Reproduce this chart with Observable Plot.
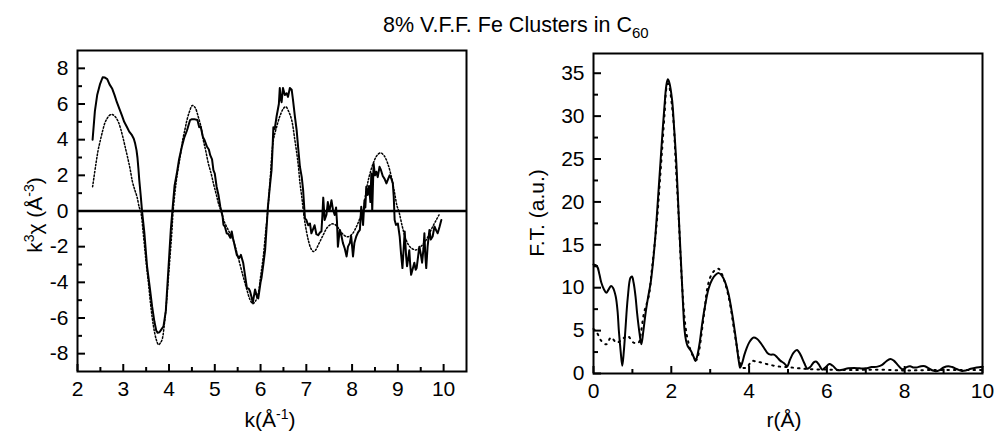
<!DOCTYPE html>
<html><head><meta charset="utf-8">
<script src="https://cdn.jsdelivr.net/npm/d3@7"></script>
<script src="https://cdn.jsdelivr.net/npm/@observablehq/plot@0.6"></script>
<style>
body{margin:0;background:#fff;}
#wrap{position:relative;width:994px;height:431px;overflow:hidden;background:#fff;font-family:"Liberation Sans",Arial,sans-serif;}
#wrap > svg{position:absolute;}
</style></head>
<body><div id="wrap"></div>
<script>
// ---- left panel: k^3 chi(k) ----
const kExp = [2.33,2.38,2.43,2.49,2.55,2.6,2.65,2.7,2.76,2.81,2.86,2.92,2.97,3.02,3.08,3.13,3.19,3.23,3.26,3.29,3.31,3.33,3.35,3.38,3.41,3.46,3.52,3.58,3.63,3.68,3.72,3.75,3.79,3.83,3.88,3.93,3.99,4.04,4.08,4.12,4.17,4.22,4.28,4.33,4.39,4.46,4.5,4.55,4.62,4.66,4.69,4.74,4.78,4.83,4.87,4.9,4.94,4.97,5.0,5.04,5.08,5.12,5.17,5.19,5.22,5.26,5.3,5.34,5.37,5.4,5.44,5.48,5.53,5.57,5.62,5.66,5.7,5.74,5.77,5.8,5.83,5.88,5.92,5.95,6.0,6.02,6.06,6.1,6.13,6.16,6.2,6.24,6.26,6.28,6.31,6.35,6.4,6.42,6.44,6.46,6.49,6.53,6.57,6.6,6.64,6.68,6.71,6.75,6.79,6.82,6.86,6.9,6.93,6.97,7.0,7.04,7.08,7.11,7.15,7.18,7.22,7.26,7.3,7.33,7.35,7.37,7.4,7.44,7.47,7.49,7.51,7.55,7.58,7.62,7.65,7.67,7.69,7.73,7.76,7.8,7.84,7.88,7.91,7.95,7.98,8.02,8.05,8.09,8.13,8.17,8.2,8.24,8.27,8.29,8.31,8.34,8.37,8.4,8.42,8.44,8.47,8.5,8.53,8.56,8.6,8.63,8.67,8.71,8.75,8.78,8.82,8.86,8.89,8.91,8.93,8.96,9.0,9.04,9.07,9.1,9.13,9.15,9.18,9.2,9.23,9.25,9.27,9.29,9.33,9.36,9.39,9.41,9.44,9.47,9.5,9.53,9.56,9.58,9.6,9.62,9.65,9.69,9.72,9.76,9.8,9.84,9.87,9.91,9.95];
const chiExp = [4.0,5.6,6.5,7.1,7.5,7.48,7.4,7.1,6.85,6.5,6.1,5.7,5.36,5.0,4.71,4.45,4.25,4.05,3.78,3.4,3.0,2.4,1.73,0.9,0.0,-1.2,-3.1,-4.3,-5.35,-6.2,-6.7,-6.83,-6.8,-6.65,-6.46,-5.6,-3.1,-1.0,0.2,1.4,2.1,2.9,3.6,4.1,4.5,5.1,5.15,5.15,5.1,4.7,4.75,4.15,3.95,3.6,3.45,3.13,2.9,2.29,2.1,1.36,0.9,0.24,-0.3,-0.78,-0.87,-1.25,-1.3,-1.5,-1.15,-1.55,-2.0,-2.46,-2.65,-2.46,-2.9,-3.6,-4.3,-4.35,-4.5,-4.8,-5.15,-4.4,-4.8,-4.9,-4.0,-3.76,-3.0,-2.18,-1.0,0.2,1.3,2.29,3.4,4.7,4.6,5.3,6.0,6.9,6.3,6.1,6.9,6.5,6.6,6.4,6.9,6.8,6.2,5.3,4.5,3.6,2.48,1.9,1.17,-0.41,-0.5,-0.8,-0.7,-1.25,-1.0,-0.8,-1.3,-1.36,-1.2,-1.15,-0.3,0.75,-0.5,-0.2,0.5,0.1,0.06,0.6,0.1,-0.22,0.2,-0.6,-2.0,-1.06,-1.3,-1.8,-2.1,-2.55,-2.0,-1.8,-1.4,-2.55,-1.8,-1.43,-1.2,-1.06,0.24,-0.78,0.6,0.2,1.36,0.9,1.4,0.5,2.1,0.0,2.66,2.0,2.2,1.9,2.48,2.3,1.96,1.8,1.55,1.75,2.0,1.8,1.55,0.8,-0.5,-0.78,-0.7,-1.43,-2.4,-3.2,-2.0,-1.15,-2.5,-3.1,-2.6,-2.2,-3.0,-3.58,-3.2,-2.9,-3.3,-3.2,-2.6,-2.0,-2.4,-2.9,-2.1,-1.25,-2.5,-3.2,-2.0,-1.06,-1.6,-1.43,-0.87,-1.1,-1.25,-0.9,-0.5];
const kFit = [2.33,2.4,2.45,2.5,2.55,2.6,2.65,2.7,2.75,2.8,2.85,2.9,2.95,3.0,3.05,3.1,3.15,3.2,3.25,3.3,3.35,3.38,3.45,3.5,3.55,3.6,3.66,3.72,3.77,3.81,3.85,3.9,3.95,4.0,4.06,4.09,4.15,4.2,4.24,4.3,4.35,4.39,4.45,4.51,4.57,4.64,4.7,4.75,4.8,4.86,4.92,4.97,5.03,5.08,5.15,5.2,5.3,5.4,5.5,5.62,5.7,5.77,5.83,5.89,5.95,6.0,6.06,6.11,6.15,6.2,6.28,6.35,6.42,6.5,6.55,6.62,6.68,6.75,6.82,6.86,6.9,6.95,7.0,7.05,7.1,7.15,7.2,7.28,7.37,7.45,7.55,7.62,7.7,7.8,7.9,8.0,8.1,8.18,8.24,8.31,8.38,8.46,8.54,8.62,8.7,8.78,8.86,8.93,8.98,9.02,9.1,9.18,9.28,9.4,9.5,9.62,9.7,9.76,9.84,9.9];
const chiFit = [1.36,2.6,3.4,3.97,4.5,4.95,5.2,5.37,5.42,5.35,5.2,4.95,4.55,4.05,3.5,2.95,2.35,1.65,1.2,0.8,0.2,0,-1.6,-2.9,-4.04,-5.3,-6.46,-7.2,-7.5,-7.4,-7.2,-6.3,-4.97,-3.3,-1.25,0,1.5,2.4,3.0,4.0,4.6,5.08,5.6,5.92,5.8,5.27,4.7,3.97,3.4,2.66,2.1,1.55,0.95,0.43,-0.1,-0.55,-1.1,-1.62,-2.5,-3.67,-4.4,-4.97,-5.2,-5.05,-4.6,-3.7,-2.55,-1.2,-0.2,1.4,3.97,4.7,5.3,5.75,5.85,5.55,5.1,3.97,2.66,1.6,0.8,-0.3,-1.1,-1.7,-2.1,-2.27,-2.2,-1.8,-1.34,-0.95,-0.73,-0.75,-0.95,-1.3,-1.45,-1.3,-0.85,-0.35,0.0,1.17,2.0,2.66,3.1,3.26,3.1,2.66,1.9,1.0,0.3,0,-0.9,-1.62,-2.05,-2.18,-2.0,-1.62,-1.2,-0.88,-0.5,-0.22];
const kTicks = [2,3,4,5,6,7,8,9,10];
const kMinor = [2.5,3.5,4.5,5.5,6.5,7.5,8.5,9.5];
const chiTicks = [-8,-6,-4,-2,0,2,4,6,8];
const chiMinor = [-7,-5,-3,-1,1,3,5,7];

// ---- right panel: Fourier transform ----
const rExp = [0.0,0.09,0.15,0.2,0.27,0.33,0.39,0.45,0.5,0.57,0.62,0.65,0.7,0.74,0.78,0.82,0.88,0.95,0.99,1.03,1.08,1.12,1.18,1.23,1.28,1.34,1.4,1.47,1.52,1.59,1.66,1.72,1.78,1.83,1.87,1.91,1.95,2.02,2.07,2.13,2.19,2.25,2.3,2.34,2.38,2.42,2.51,2.57,2.62,2.67,2.73,2.8,2.88,2.96,3.05,3.14,3.22,3.3,3.39,3.47,3.56,3.63,3.69,3.74,3.77,3.82,3.88,3.94,4.0,4.06,4.12,4.2,4.29,4.38,4.47,4.55,4.64,4.72,4.8,4.9,4.98,5.05,5.14,5.23,5.32,5.42,5.5,5.58,5.66,5.72,5.8,5.88,5.96,6.06,6.15,6.27,6.4,6.55,6.7,6.85,7.0,7.15,7.3,7.42,7.52,7.63,7.72,7.82,7.92,7.97,8.05,8.14,8.22,8.3,8.42,8.52,8.62,8.72,8.8,8.9,9.0,9.12,9.22,9.35,9.47,9.57,9.7,9.85,10.0];
const ftExp = [12.7,12.5,11.6,10.6,9.8,9.4,9.8,10.2,10.0,9.0,7.2,5.1,2.5,0.9,2.6,5.1,8.8,11.15,11.3,10.6,9.0,7.08,4.8,3.4,4.9,7.08,8.8,10.6,12.5,16.0,20.5,24.5,28.5,31.5,33.5,34.3,33.9,31.9,28.8,24.5,18.5,12.9,8.2,5.1,3.8,3.2,2.6,2.0,1.45,2.1,3.6,6.0,8.2,9.9,10.95,11.5,11.7,11.4,10.57,9.3,7.08,5.0,3.0,1.3,0.68,1.2,2.2,3.0,3.6,4.0,4.2,4.05,3.6,3.0,2.4,2.2,2.2,1.9,1.5,1.2,0.85,1.6,2.4,2.75,2.2,1.2,0.55,0.8,1.3,1.4,1.0,0.45,0.7,1.1,0.9,0.4,0.45,0.6,0.65,0.6,0.6,0.75,0.8,1.0,1.4,1.7,1.5,1.0,0.55,0.5,0.75,0.85,0.7,0.7,0.85,0.85,0.6,0.35,0.25,0.4,0.7,0.85,0.75,0.5,0.3,0.35,0.55,0.7,0.8];
const rFit = [0.0,0.09,0.2,0.33,0.45,0.59,0.72,0.87,1.03,1.16,1.22,1.3,1.42,1.5,1.57,1.64,1.7,1.77,1.83,1.88,1.92,1.96,2.01,2.06,2.12,2.19,2.25,2.32,2.37,2.42,2.54,2.65,2.72,2.79,2.86,2.92,3.0,3.09,3.17,3.22,3.3,3.35,3.44,3.52,3.6,3.69,3.76,3.82,3.94,4.07,4.18,4.29,4.54,4.8,5.01,5.18,5.44,6.0,6.6,7.3,8.0,8.6,9.3,10.0];
const ftFit = [5.2,4.75,3.8,3.4,4.2,3.6,3.9,4.4,3.6,3.6,4.8,7.1,9.0,12.1,15.0,18.3,22.0,26.5,30.5,33.4,33.8,33.2,31.5,29.2,24.0,18.3,12.5,7.5,5.3,4.0,2.2,1.6,2.8,5.1,7.6,9.8,11.2,11.9,12.2,12.2,11.6,11.0,9.6,7.85,5.5,3.0,1.3,0.7,0.7,1.45,1.4,1.3,1.0,0.8,0.74,0.66,0.54,0.45,0.4,0.45,0.35,0.4,0.4,0.4];
const rTicks = [0,2,4,6,8,10];
const rMinor = [1,3,5,7,9];
const ftTicks = [0,5,10,15,20,25,30,35];
const ftMinor = [2.5,7.5,12.5,17.5,22.5,27.5,32.5];

const FONT = '"Liberation Sans", Arial, Helvetica, sans-serif';
const expData = kExp.map((k, i) => ({k, v: chiExp[i]}));
const fitData = kFit.map((k, i) => ({k, v: chiFit[i]}));
const ftData = rExp.map((r, i) => ({r, v: ftExp[i]}));
const ftFitData = rFit.map((r, i) => ({r, v: ftFit[i]}));
const fmt = d => String(d);
const style = {fontFamily: FONT, fontSize: "21px", color: "black", background: "white", overflow: "visible"};

// inward tick marks: ticks spanning the frame, inset so only a short stub at the edge remains
function innerTicksX(values, len, frameH) {
  return Plot.tickX(values, {x: d => d, insetTop: frameH - len, strokeWidth: 2});
}
function innerTicksY(values, len, frameW) {
  return Plot.tickY(values, {y: d => d, insetRight: frameW - len, strokeWidth: 2});
}

const wrap = document.getElementById("wrap");

// title
const title = d3.create("svg").attr("width", 994).attr("height", 40).style("left", "0px").style("top", "0px");
const tt = title.append("text").attr("x", 383).attr("y", 32).attr("font-family", FONT).attr("font-size", 21.5);
tt.append("tspan").text("8% V.F.F. Fe Clusters in C");
tt.append("tspan").attr("font-size", 15).attr("dy", 6).text("60");
wrap.appendChild(title.node());

const L = {width: 494, height: 391, marginLeft: 77, marginRight: 28, marginTop: 10, marginBottom: 60};
const LW = L.width - L.marginLeft - L.marginRight, LH = L.height - L.marginTop - L.marginBottom;
const left = Plot.plot({
  ...L,
  x: {domain: [2, 10.5]},
  y: {domain: [-9, 9]},
  style,
  marks: [
    Plot.ruleY([0], {strokeWidth: 2.5}),
    Plot.line(fitData, {x: "k", y: "v", strokeWidth: 1.5, strokeDasharray: "1.5,2", curve: "catmull-rom"}),
    Plot.line(expData, {x: "k", y: "v", strokeWidth: 2, strokeLinejoin: "round"}),
    Plot.axisX({ticks: kTicks, tickSize: 0, tickPadding: 10, label: null, tickFormat: fmt}),
    Plot.axisY({ticks: chiTicks, tickSize: 0, tickPadding: 9, label: null, tickFormat: fmt}),
    innerTicksX(kTicks, 7, LH),
    innerTicksX(kMinor, 4, LH),
    innerTicksY(chiTicks, 8, LW),
    innerTicksY(chiMinor, 5, LW),
    Plot.frame({strokeWidth: 2})
  ]
});
left.style.left = "0px"; left.style.top = "40px";
wrap.appendChild(left);
{
  const s = d3.select(left);
  const yl = s.append("text").attr("transform", "translate(42,175) rotate(-90)").attr("text-anchor", "middle")
    .attr("font-family", FONT).attr("font-size", 21);
  yl.append("tspan").text("k");
  yl.append("tspan").attr("font-size", 14).attr("dy", -8).text("3");
  yl.append("tspan").attr("dy", 8).text("\u03C7 (\u00C5");
  yl.append("tspan").attr("font-size", 14).attr("dy", -8).text("-3");
  yl.append("tspan").attr("dy", 8).text(")");
  const xl = s.append("text").attr("x", 270).attr("y", 387).attr("text-anchor", "middle")
    .attr("font-family", FONT).attr("font-size", 21);
  xl.append("tspan").text("k(\u00C5");
  xl.append("tspan").attr("font-size", 14).attr("dy", -8).text("-1");
  xl.append("tspan").attr("dy", 8).text(")");
}

const R = {width: 500, height: 391, marginLeft: 99, marginRight: 12, marginTop: 13, marginBottom: 58};
const RW = R.width - R.marginLeft - R.marginRight, RH = R.height - R.marginTop - R.marginBottom;
const right = Plot.plot({
  ...R,
  x: {domain: [0, 10]},
  y: {domain: [0, 37.3]},
  style,
  marks: [
    Plot.line(ftFitData, {x: "r", y: "v", strokeWidth: 2, strokeDasharray: "1.5,5", curve: "catmull-rom"}),
    Plot.line(ftData, {x: "r", y: "v", strokeWidth: 2, curve: "catmull-rom"}),
    Plot.axisX({ticks: rTicks, tickSize: 0, tickPadding: 10, label: null, tickFormat: fmt}),
    Plot.axisY({ticks: ftTicks, tickSize: 0, tickPadding: 9, label: null, tickFormat: fmt}),
    innerTicksX(rTicks, 7, RH),
    innerTicksX(rMinor, 4, RH),
    innerTicksY(ftTicks, 8, RW),
    innerTicksY(ftMinor, 5, RW),
    Plot.frame({strokeWidth: 2})
  ]
});
right.style.left = "494px"; right.style.top = "40px";
wrap.appendChild(right);
{
  const s = d3.select(right);
  s.append("text").attr("transform", "translate(50,173) rotate(-90)").attr("text-anchor", "middle")
    .attr("font-family", FONT).attr("font-size", 21).text("F.T. (a.u.)");
  s.append("text").attr("x", 290).attr("y", 387).attr("text-anchor", "middle")
    .attr("font-family", FONT).attr("font-size", 21).text("r(\u00C5)");
}
</script>
</body></html>
